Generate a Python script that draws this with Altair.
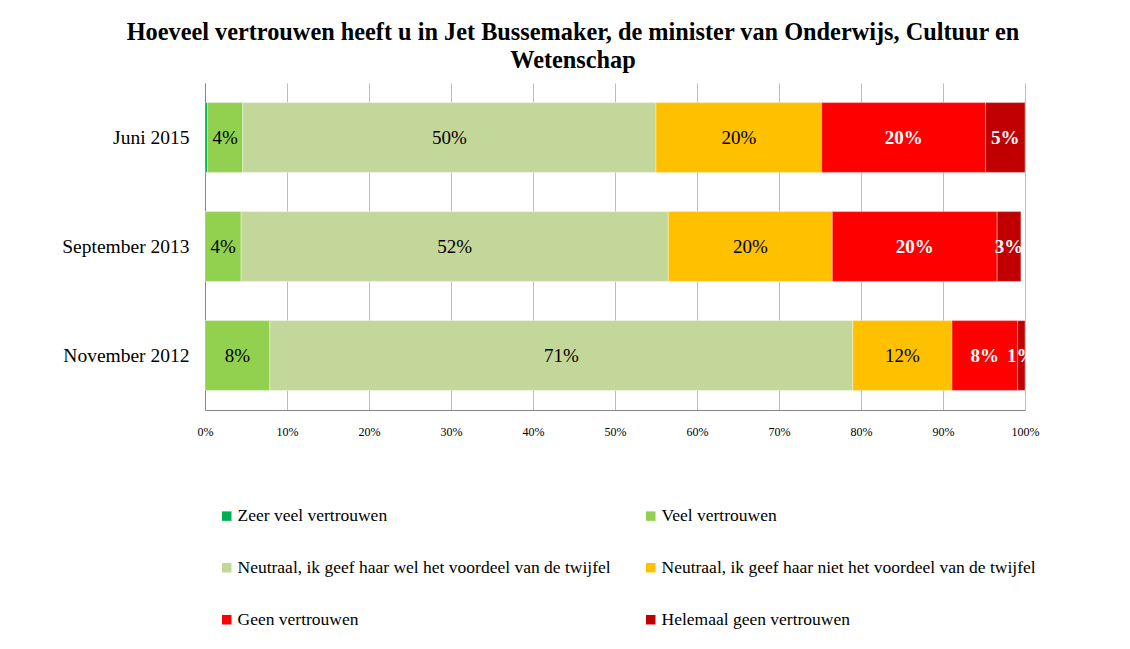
import altair as alt
import pandas as pd

periods = ["Juni 2015", "September 2013", "November 2012"]
categories = [
    "Zeer veel vertrouwen",
    "Veel vertrouwen",
    "Neutraal, ik geef haar wel het voordeel van de twijfel",
    "Neutraal, ik geef haar niet het voordeel van de twijfel",
    "Geen vertrouwen",
    "Helemaal geen vertrouwen",
]
colors = ["#00B050", "#92D050", "#C4D79B", "#FFC000", "#FF0000", "#C00000"]
juni_2015 = [0.3, 4.3, 50.4, 20.2, 20.0, 4.8]
september_2013 = [0.0, 4.4, 52.1, 20.0, 20.1, 2.9]
november_2012 = [0.0, 7.9, 71.1, 12.1, 8.0, 0.9]
x_ticks = [0, 10, 20, 30, 40, 50, 60, 70, 80, 90, 100]

series = {"Juni 2015": juni_2015, "September 2013": september_2013, "November 2012": november_2012}
rows = []
for p in periods:
    for i, (c, v) in enumerate(zip(categories, series[p])):
        rows.append({"period": p, "category": c, "idx": i, "value": v / 100.0})
df = pd.DataFrame(rows)

FONT = "Liberation Serif"

base = alt.Chart(df).transform_stack(
    stack="value", groupby=["period"], as_=["x0", "x1"], sort=[alt.SortField("idx", order="ascending")]
).transform_calculate(mid="(datum.x0 + datum.x1) / 2")

y_enc = alt.Y(
    "period:N",
    sort=periods,
    scale=alt.Scale(paddingInner=0.36, paddingOuter=0.18),
    axis=alt.Axis(
        title=None, ticks=False, labelPadding=16, labelFont=FONT, labelFontSize=19.5,
        labelColor="#000000", domainColor="#868686",
    ),
)

bars = base.mark_bar(stroke="#ffffff", strokeWidth=0.6, strokeOpacity=0.6).encode(
    x=alt.X(
        "x0:Q",
        scale=alt.Scale(domain=[0, 1], nice=False),
        axis=alt.Axis(
            title=None, values=[t / 100 for t in x_ticks], format=".0%", grid=True,
            gridColor="#BDBDBD", domainColor="#868686", ticks=False, labelPadding=16,
            labelFont=FONT, labelFontSize=12, labelColor="#000000", labelFlush=False,
        ),
    ),
    x2="x1:Q",
    y=y_enc,
    color=alt.Color(
        "category:N",
        sort=categories,
        scale=alt.Scale(domain=categories, range=colors),
        legend=alt.Legend(
            title=None, orient="none", legendX=13, legendY=424, columns=2,
            direction="horizontal",
            symbolType="square", symbolSize=90, symbolStrokeWidth=0,
            labelFont=FONT, labelFontSize=17.5, labelColor="#000000", labelLimit=600,
            rowPadding=33, columnPadding=31, labelOffset=2,
        ),
    ),
    order=alt.Order("idx:Q"),
)

dark_text = base.transform_filter("datum.idx < 4 && datum.value >= 0.005").mark_text(
    font=FONT, fontSize=19, color="#000000"
).encode(x="mid:Q", y=alt.Y("period:N", sort=periods), text=alt.Text("value:Q", format=".0%"))

light_text = base.transform_filter("datum.idx >= 4 && datum.value >= 0.005").mark_text(
    font=FONT, fontSize=19, color="#ffffff", fontWeight="bold"
).encode(x="mid:Q", y=alt.Y("period:N", sort=periods), text=alt.Text("value:Q", format=".0%"))

chart = alt.layer(bars, dark_text, light_text).properties(
    width=820,
    height=327,
    title=alt.Title(
        ["Hoeveel vertrouwen heeft u in Jet Bussemaker, de minister van Onderwijs, Cultuur en", "Wetenschap"],
        font=FONT, fontSize=24.3, fontWeight="bold", color="#000000", lineHeight=28,
        anchor="middle", dx=-42, offset=10,
    ),
    autosize=alt.AutoSizeParams(type="none"),
    padding={"left": 197, "top": 75, "right": 97, "bottom": 231},
    background="#ffffff",
).configure_view(stroke=None)

chart.save("out.html", embed_options={"renderer": "svg", "actions": False})
